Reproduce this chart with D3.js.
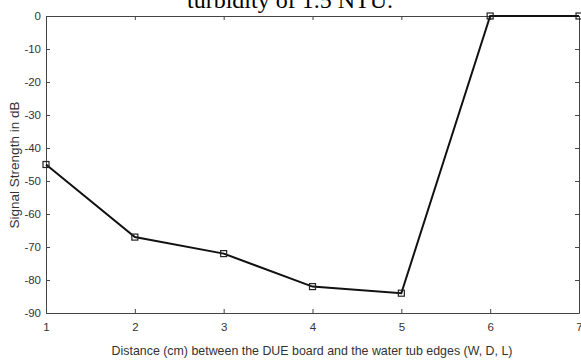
<!doctype html>
<html lang="en">
  <head>
    <meta charset="utf-8">
    <title>Signal Strength vs Distance</title>
    <script src="https://d3js.org/d3.v7.min.js"></script>
    <style>
      body { margin: 0; background: #fff; }
      .tick text { font-family: Arial, "Liberation Sans", sans-serif; font-size: 11.5px; fill: #333; }
      .axis path, .axis line { stroke: #444; }
    </style>
  </head>
  <body>
    <script>

      var distances = [1, 2, 3, 4, 5, 6, 7];
      var strengths = [-45, -67, -72, -82, -84, 0, 0];
      var xTicks = [1, 2, 3, 4, 5, 6, 7];
      var yTicks = [0, -10, -20, -30, -40, -50, -60, -70, -80, -90];

      var margin = {top: 16, right: 2, bottom: 48, left: 46},
          width = 581 - margin.left - margin.right,
          height = 361 - margin.top - margin.bottom;

      var svg = d3.select("body").append("svg")
          .attr("width", 581)
          .attr("height", 361);

      // title line cut off at the top of the figure
      svg.append("text")
          .attr("x", 290)
          .attr("y", 8)
          .attr("text-anchor", "middle")
          .style("font-family", "'Liberation Serif', 'Times New Roman', serif")
          .style("font-size", "24px")
          .text("turbidity of 1.5 NTU.");

      var g = svg.append("g")
          .attr("transform", "translate(" + margin.left + "," + margin.top + ")");

      var x = d3.scaleLinear().domain([1, 7]).range([0, width]);
      var y = d3.scaleLinear().domain([-90, 0]).range([height, 0]);

      g.append("g")
          .attr("class", "axis")
          .attr("transform", "translate(0," + height + ")")
          .call(d3.axisBottom(x).tickValues(xTicks).tickSizeInner(-4).tickSizeOuter(0).tickPadding(10).tickFormat(String));

      g.append("g")
          .attr("class", "axis")
          .call(d3.axisTop(x).tickValues(xTicks).tickSizeInner(-4).tickSizeOuter(0).tickFormat(""));

      g.append("g")
          .attr("class", "axis")
          .call(d3.axisLeft(y).tickValues(yTicks).tickSizeInner(-4).tickSizeOuter(0).tickPadding(5).tickFormat(String));

      g.append("g")
          .attr("class", "axis")
          .attr("transform", "translate(" + width + ",0)")
          .call(d3.axisRight(y).tickValues(yTicks).tickSizeInner(-4).tickSizeOuter(0).tickFormat(""));

      var pts = distances.map(function(d, i){ return [d, strengths[i]]; });

      g.append("path")
          .datum(pts)
          .attr("fill", "none")
          .attr("stroke", "#111")
          .attr("stroke-width", 2)
          .attr("d", d3.line().x(function(d){ return x(d[0]); }).y(function(d){ return y(d[1]); }));

      g.selectAll("rect.marker")
          .data(pts)
        .enter().append("rect")
          .attr("class", "marker")
          .attr("x", function(d){ return x(d[0]) - 3; })
          .attr("y", function(d){ return y(d[1]) - 3; })
          .attr("width", 6)
          .attr("height", 6)
          .attr("fill", "none")
          .attr("stroke", "#222")
          .attr("stroke-width", 1.2);

      svg.append("text")
          .attr("x", 312)
          .attr("y", 355)
          .attr("text-anchor", "middle")
          .style("font-family", "Arial, 'Liberation Sans', sans-serif")
          .style("font-size", "12.4px")
          .style("fill", "#333")
          .text("Distance (cm) between the DUE board and the water tub edges (W, D, L)");

      svg.append("text")
          .attr("transform", "translate(19,165) rotate(-90)")
          .attr("text-anchor", "middle")
          .style("font-family", "Arial, 'Liberation Sans', sans-serif")
          .style("font-size", "13.5px")
          .style("fill", "#333")
          .text("Signal Strength in dB");

    </script>
  </body>
</html>
